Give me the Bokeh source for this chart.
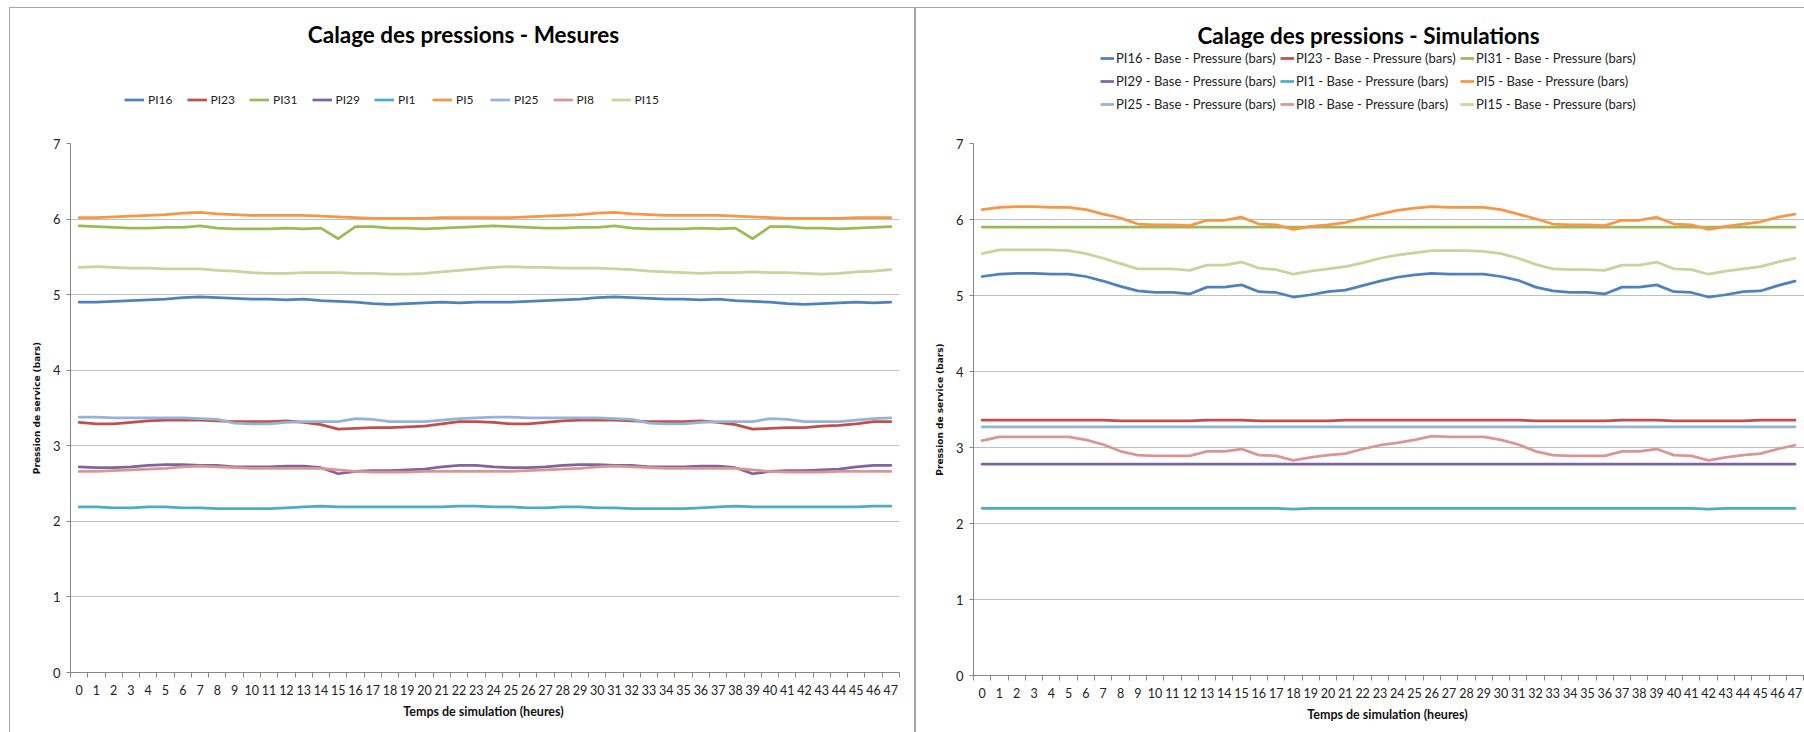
from bokeh.plotting import figure
from bokeh.models import (Range1d, FixedTicker, Legend, LegendItem, Label,
                          ColumnDataSource)
from bokeh.layouts import row, column
from bokeh.embed import file_html
from bokeh.resources import INLINE

# ---- data -----------------------------------------------------------------
hours = list(range(48))

series_names = ["PI16", "PI23", "PI31", "PI29", "PI1", "PI5", "PI25", "PI8", "PI15"]
series_colors = ["#4F81BD", "#C0504D", "#9BBB59", "#8064A2", "#4BACC6",
                 "#F79646", "#95B3D7", "#D99694", "#C3D69B"]

# measured pressures (bars)
mes_pi16 = [4.90, 4.90, 4.91, 4.92, 4.93, 4.94, 4.96, 4.97, 4.96, 4.95, 4.94, 4.94,
            4.93, 4.94, 4.92, 4.91, 4.90, 4.88, 4.87, 4.88, 4.89, 4.90, 4.89, 4.90,
            4.90, 4.90, 4.91, 4.92, 4.93, 4.94, 4.96, 4.97, 4.96, 4.95, 4.94, 4.94,
            4.93, 4.94, 4.92, 4.91, 4.90, 4.88, 4.87, 4.88, 4.89, 4.90, 4.89, 4.90]
mes_pi23 = [3.31, 3.29, 3.29, 3.31, 3.33, 3.34, 3.34, 3.34, 3.33, 3.32, 3.32, 3.32,
            3.33, 3.31, 3.28, 3.22, 3.23, 3.24, 3.24, 3.25, 3.26, 3.29, 3.32, 3.32,
            3.31, 3.29, 3.29, 3.31, 3.33, 3.34, 3.34, 3.34, 3.33, 3.32, 3.32, 3.32,
            3.33, 3.31, 3.28, 3.22, 3.23, 3.24, 3.24, 3.26, 3.27, 3.29, 3.32, 3.32]
mes_pi31 = [5.91, 5.90, 5.89, 5.88, 5.88, 5.89, 5.89, 5.91, 5.88, 5.87, 5.87, 5.87,
            5.88, 5.87, 5.88, 5.74, 5.90, 5.90, 5.88, 5.88, 5.87, 5.88, 5.89, 5.90,
            5.91, 5.90, 5.89, 5.88, 5.88, 5.89, 5.89, 5.91, 5.88, 5.87, 5.87, 5.87,
            5.88, 5.87, 5.88, 5.74, 5.90, 5.90, 5.88, 5.88, 5.87, 5.88, 5.89, 5.90]
mes_pi29 = [2.72, 2.71, 2.71, 2.72, 2.74, 2.75, 2.75, 2.74, 2.74, 2.72, 2.72, 2.72,
            2.73, 2.73, 2.71, 2.63, 2.66, 2.67, 2.67, 2.68, 2.69, 2.72, 2.74, 2.74,
            2.72, 2.71, 2.71, 2.72, 2.74, 2.75, 2.75, 2.74, 2.74, 2.72, 2.72, 2.72,
            2.73, 2.73, 2.71, 2.63, 2.66, 2.67, 2.67, 2.68, 2.69, 2.72, 2.74, 2.74]
mes_pi1 = [2.19, 2.19, 2.18, 2.18, 2.19, 2.19, 2.18, 2.18, 2.17, 2.17, 2.17, 2.17,
           2.18, 2.19, 2.20, 2.19, 2.19, 2.19, 2.19, 2.19, 2.19, 2.19, 2.20, 2.20,
           2.19, 2.19, 2.18, 2.18, 2.19, 2.19, 2.18, 2.18, 2.17, 2.17, 2.17, 2.17,
           2.18, 2.19, 2.20, 2.19, 2.19, 2.19, 2.19, 2.19, 2.19, 2.19, 2.20, 2.20]
mes_pi5 = [6.02, 6.02, 6.03, 6.04, 6.05, 6.06, 6.08, 6.09, 6.07, 6.06, 6.05, 6.05,
           6.05, 6.05, 6.04, 6.03, 6.02, 6.01, 6.01, 6.01, 6.01, 6.02, 6.02, 6.02,
           6.02, 6.02, 6.03, 6.04, 6.05, 6.06, 6.08, 6.09, 6.07, 6.06, 6.05, 6.05,
           6.05, 6.05, 6.04, 6.03, 6.02, 6.01, 6.01, 6.01, 6.01, 6.02, 6.02, 6.02]
mes_pi25 = [3.38, 3.38, 3.37, 3.37, 3.37, 3.37, 3.37, 3.36, 3.35, 3.30, 3.29, 3.29,
            3.31, 3.32, 3.32, 3.32, 3.36, 3.35, 3.32, 3.32, 3.32, 3.34, 3.36, 3.37,
            3.38, 3.38, 3.37, 3.37, 3.37, 3.37, 3.37, 3.36, 3.35, 3.30, 3.29, 3.29,
            3.31, 3.32, 3.32, 3.32, 3.36, 3.35, 3.32, 3.32, 3.32, 3.34, 3.36, 3.37]
mes_pi8 = [2.66, 2.66, 2.67, 2.68, 2.69, 2.70, 2.72, 2.73, 2.72, 2.71, 2.70, 2.70,
           2.70, 2.70, 2.70, 2.68, 2.66, 2.65, 2.65, 2.65, 2.66, 2.66, 2.66, 2.66,
           2.66, 2.66, 2.67, 2.68, 2.69, 2.70, 2.72, 2.73, 2.72, 2.71, 2.70, 2.70,
           2.70, 2.70, 2.70, 2.68, 2.66, 2.65, 2.65, 2.65, 2.66, 2.66, 2.66, 2.66]
mes_pi15 = [5.36, 5.37, 5.36, 5.35, 5.35, 5.34, 5.34, 5.34, 5.32, 5.31, 5.29, 5.28,
            5.28, 5.29, 5.29, 5.29, 5.28, 5.28, 5.27, 5.27, 5.28, 5.30, 5.32, 5.34,
            5.36, 5.37, 5.36, 5.36, 5.35, 5.35, 5.35, 5.34, 5.33, 5.31, 5.30, 5.29,
            5.28, 5.29, 5.29, 5.30, 5.29, 5.29, 5.28, 5.27, 5.28, 5.30, 5.31, 5.33]

# simulated pressures (bars)
sim_pi16 = [5.25, 5.28, 5.29, 5.29, 5.28, 5.28, 5.25, 5.19, 5.12, 5.06, 5.04, 5.04,
            5.02, 5.11, 5.11, 5.14, 5.05, 5.04, 4.98, 5.01, 5.05, 5.07, 5.13, 5.19,
            5.24, 5.27, 5.29, 5.28, 5.28, 5.28, 5.25, 5.20, 5.11, 5.06, 5.04, 5.04,
            5.02, 5.11, 5.11, 5.14, 5.05, 5.04, 4.98, 5.01, 5.05, 5.06, 5.13, 5.19]
sim_pi23 = [3.36, 3.36, 3.36, 3.36, 3.36, 3.36, 3.36, 3.36, 3.35, 3.35, 3.35, 3.35,
            3.35, 3.36, 3.36, 3.36, 3.35, 3.35, 3.35, 3.35, 3.35, 3.36, 3.36, 3.36,
            3.36, 3.36, 3.36, 3.36, 3.36, 3.36, 3.36, 3.36, 3.35, 3.35, 3.35, 3.35,
            3.35, 3.36, 3.36, 3.36, 3.35, 3.35, 3.35, 3.35, 3.35, 3.36, 3.36, 3.36]
sim_pi31 = [5.90, 5.90, 5.90, 5.90, 5.90, 5.90, 5.90, 5.90, 5.90, 5.90, 5.90, 5.90,
            5.90, 5.90, 5.90, 5.90, 5.90, 5.90, 5.90, 5.90, 5.90, 5.90, 5.90, 5.90,
            5.90, 5.90, 5.90, 5.90, 5.90, 5.90, 5.90, 5.90, 5.90, 5.90, 5.90, 5.90,
            5.90, 5.90, 5.90, 5.90, 5.90, 5.90, 5.90, 5.90, 5.90, 5.90, 5.90, 5.90]
sim_pi29 = [2.78, 2.78, 2.78, 2.78, 2.78, 2.78, 2.78, 2.78, 2.78, 2.78, 2.78, 2.78,
            2.78, 2.78, 2.78, 2.78, 2.78, 2.78, 2.78, 2.78, 2.78, 2.78, 2.78, 2.78,
            2.78, 2.78, 2.78, 2.78, 2.78, 2.78, 2.78, 2.78, 2.78, 2.78, 2.78, 2.78,
            2.78, 2.78, 2.78, 2.78, 2.78, 2.78, 2.78, 2.78, 2.78, 2.78, 2.78, 2.78]
sim_pi1 = [2.20, 2.20, 2.20, 2.20, 2.20, 2.20, 2.20, 2.20, 2.20, 2.20, 2.20, 2.20,
           2.20, 2.20, 2.20, 2.20, 2.20, 2.20, 2.19, 2.20, 2.20, 2.20, 2.20, 2.20,
           2.20, 2.20, 2.20, 2.20, 2.20, 2.20, 2.20, 2.20, 2.20, 2.20, 2.20, 2.20,
           2.20, 2.20, 2.20, 2.20, 2.20, 2.20, 2.19, 2.20, 2.20, 2.20, 2.20, 2.20]
sim_pi5 = [6.13, 6.16, 6.17, 6.17, 6.16, 6.16, 6.13, 6.07, 6.02, 5.94, 5.93, 5.93,
           5.92, 5.99, 5.99, 6.03, 5.94, 5.93, 5.87, 5.91, 5.93, 5.96, 6.02, 6.07,
           6.12, 6.15, 6.17, 6.16, 6.16, 6.16, 6.13, 6.07, 6.01, 5.94, 5.93, 5.93,
           5.92, 5.99, 5.99, 6.03, 5.94, 5.93, 5.87, 5.91, 5.94, 5.97, 6.03, 6.07]
sim_pi25 = [3.27, 3.27, 3.27, 3.27, 3.27, 3.27, 3.27, 3.27, 3.27, 3.27, 3.27, 3.27,
            3.27, 3.27, 3.27, 3.27, 3.27, 3.27, 3.27, 3.27, 3.27, 3.27, 3.27, 3.27,
            3.27, 3.27, 3.27, 3.27, 3.27, 3.27, 3.27, 3.27, 3.27, 3.27, 3.27, 3.27,
            3.27, 3.27, 3.27, 3.27, 3.27, 3.27, 3.27, 3.27, 3.27, 3.27, 3.27, 3.27]
sim_pi8 = [3.09, 3.14, 3.14, 3.14, 3.14, 3.14, 3.10, 3.04, 2.95, 2.90, 2.89, 2.89,
           2.89, 2.95, 2.95, 2.98, 2.90, 2.89, 2.83, 2.87, 2.90, 2.92, 2.98, 3.03,
           3.06, 3.10, 3.15, 3.14, 3.14, 3.14, 3.10, 3.04, 2.95, 2.90, 2.89, 2.89,
           2.89, 2.95, 2.95, 2.98, 2.90, 2.89, 2.83, 2.87, 2.90, 2.92, 2.98, 3.03]
sim_pi15 = [5.55, 5.60, 5.60, 5.60, 5.60, 5.59, 5.55, 5.49, 5.42, 5.35, 5.35, 5.35,
            5.33, 5.40, 5.40, 5.44, 5.36, 5.34, 5.28, 5.32, 5.35, 5.38, 5.43, 5.49,
            5.53, 5.56, 5.59, 5.59, 5.59, 5.58, 5.55, 5.49, 5.41, 5.35, 5.34, 5.34,
            5.33, 5.40, 5.40, 5.44, 5.35, 5.34, 5.28, 5.32, 5.35, 5.38, 5.44, 5.49]

measured = [mes_pi16, mes_pi23, mes_pi31, mes_pi29, mes_pi1, mes_pi5, mes_pi25, mes_pi8, mes_pi15]
simulated = [sim_pi16, sim_pi23, sim_pi31, sim_pi29, sim_pi1, sim_pi5, sim_pi25, sim_pi8, sim_pi15]
for s in measured + simulated:
    assert len(s) == len(hours)

FONT = "Lato"
GRID = "#BFBFBF"
AXIS = "#868686"
BOX = "#A6A6A6"
LINE_W = 2.75
HEADER_H = 130
NAN = float("nan")


def make_header(title, labels, width, frame_left, frame_right_pad, title_x, title_y,
                legend_opts, styles):
    """Title and legend strip drawn above a chart; data units equal pixels."""
    h = figure(width=width, height=HEADER_H, output_backend="svg", toolbar_location=None,
               x_range=Range1d(frame_left, width - frame_right_pad),
               y_range=Range1d(HEADER_H, 0),
               x_axis_type=None, y_axis_type=None,
               min_border_left=frame_left, min_border_right=frame_right_pad,
               min_border_top=0, min_border_bottom=0)
    h.border_fill_color = None
    h.background_fill_color = None
    h.outline_line_color = None
    # legend keys: one empty (NaN) line per series, styled like the chart lines
    keys = [h.line(x=[NAN], y=[NAN], line_color=c, line_width=LINE_W)
            for c in series_colors]
    legend = Legend(items=[LegendItem(label=t, renderers=[r]) for t, r in zip(labels, keys)],
                    padding=0, margin=0, border_line_color=None, background_fill_alpha=0,
                    label_text_font=FONT, label_text_color="#222222",
                    orientation="horizontal", **legend_opts)
    h.add_layout(legend)
    h.add_layout(Label(x=title_x, y=title_y, text=title, text_font=FONT,
                       text_font_style="bold", text_font_size="22.5px",
                       text_align="center", text_baseline="middle", text_color="#000000"))
    h.styles = styles
    return h


def make_chart(values, width, frame_left, frame_right_pad, frame_bottom_pad, x_end, styles):
    p = figure(width=width, height=732 - HEADER_H, output_backend="svg", toolbar_location=None,
               x_range=Range1d(-0.5, x_end), y_range=Range1d(0, 7),
               min_border_left=frame_left, min_border_right=frame_right_pad,
               min_border_top=143 - HEADER_H, min_border_bottom=frame_bottom_pad)
    p.border_fill_color = None
    p.background_fill_color = "#FFFFFF"
    p.outline_line_color = None

    src = ColumnDataSource({"h": hours, **{n: v for n, v in zip(series_names, values)}})
    for n, c in zip(series_names, series_colors):
        p.line("h", n, source=src, line_color=c, line_width=LINE_W,
               line_join="round", line_cap="round")

    # category axis: labels centred on the hours, tick marks between them
    xa = p.xaxis[0]
    xa.ticker = FixedTicker(ticks=hours, minor_ticks=[h - 0.5 for h in range(49)])
    xa.major_tick_line_color = None
    xa.minor_tick_in = 0
    xa.minor_tick_out = 5
    xa.minor_tick_line_color = AXIS
    xa.axis_line_color = AXIS
    xa.major_label_standoff = 6
    xa.major_label_text_font = FONT
    xa.major_label_text_font_size = "12.5px"
    xa.major_label_text_color = "#222222"
    xa.axis_label = "Temps de simulation  (heures)"
    xa.axis_label_text_font = FONT
    xa.axis_label_text_font_style = "bold"
    xa.axis_label_text_font_size = "12.5px"
    xa.axis_label_text_color = "#111111"
    xa.axis_label_standoff = 6

    ya = p.yaxis[0]
    ya.ticker = FixedTicker(ticks=[0, 1, 2, 3, 4, 5, 6, 7])
    ya.minor_tick_line_color = None
    ya.major_tick_in = 0
    ya.major_tick_out = 4
    ya.major_tick_line_color = AXIS
    ya.axis_line_color = AXIS
    ya.major_label_standoff = 6
    ya.major_label_text_font = FONT
    ya.major_label_text_font_size = "13px"
    ya.major_label_text_color = "#222222"
    ya.axis_label = "Pression de service (bars)"
    ya.axis_label_text_font = "DejaVu Sans"
    ya.axis_label_text_font_style = "bold"
    ya.axis_label_text_font_size = "9px"
    ya.axis_label_text_color = "#111111"
    ya.axis_label_standoff = 8

    p.xgrid.grid_line_color = None
    p.ygrid.ticker = FixedTicker(ticks=[1, 2, 3, 4, 5, 6, 7])
    p.ygrid.grid_line_color = GRID
    p.ygrid.grid_line_width = 1
    p.styles = styles
    return p


# panel frames (thin grey box round each chart area)
left_head_css = {"box-shadow": "inset 9px 0 0 #ffffff, inset 0 7px 0 #ffffff, "
                               "inset 10px 0 0 %s, inset 0 8px 0 %s, inset -2px 0 0 %s" % (BOX, BOX, BOX)}
left_body_css = {"box-shadow": "inset 9px 0 0 #ffffff, inset 10px 0 0 %s, "
                               "inset -2px 0 0 %s" % (BOX, BOX)}
right_head_css = {"box-shadow": "inset 0 7px 0 #ffffff, inset 0 8px 0 %s" % BOX}

# left panel: measurements
left_head = make_header(
    "Calage des pressions - Mesures", series_names, 916, 70, 17,
    title_x=463, title_y=34,
    legend_opts=dict(location=(124 - 70, HEADER_H - 107), glyph_width=20, glyph_height=15,
                     label_height=15, label_standoff=4, spacing=14,
                     label_text_font_size="12px"),
    styles=left_head_css)
left_chart = make_chart(measured, 916, frame_left=70, frame_right_pad=17,
                        frame_bottom_pad=60, x_end=47.5, styles=left_body_css)

# right panel: simulations (plot area runs to the page edge)
sim_labels = [n + " - Base - Pressure (bars)" for n in series_names]
right_head = make_header(
    "Calage des pressions - Simulations", sim_labels, 888, 57, 0,
    title_x=1368 - 916, title_y=35,
    legend_opts=dict(location=(1100 - 973, HEADER_H - 114), ncols=3, glyph_width=14,
                     glyph_height=20, label_height=20, label_width=161,
                     label_standoff=2, spacing=3, label_text_font_size="13px"),
    styles=right_head_css)
right_chart = make_chart(simulated, 888, frame_left=57, frame_right_pad=0,
                         frame_bottom_pad=57, x_end=47.55, styles={})

layout = row(column(left_head, left_chart), column(right_head, right_chart))
open("out.html", "w").write(file_html(layout, INLINE))
